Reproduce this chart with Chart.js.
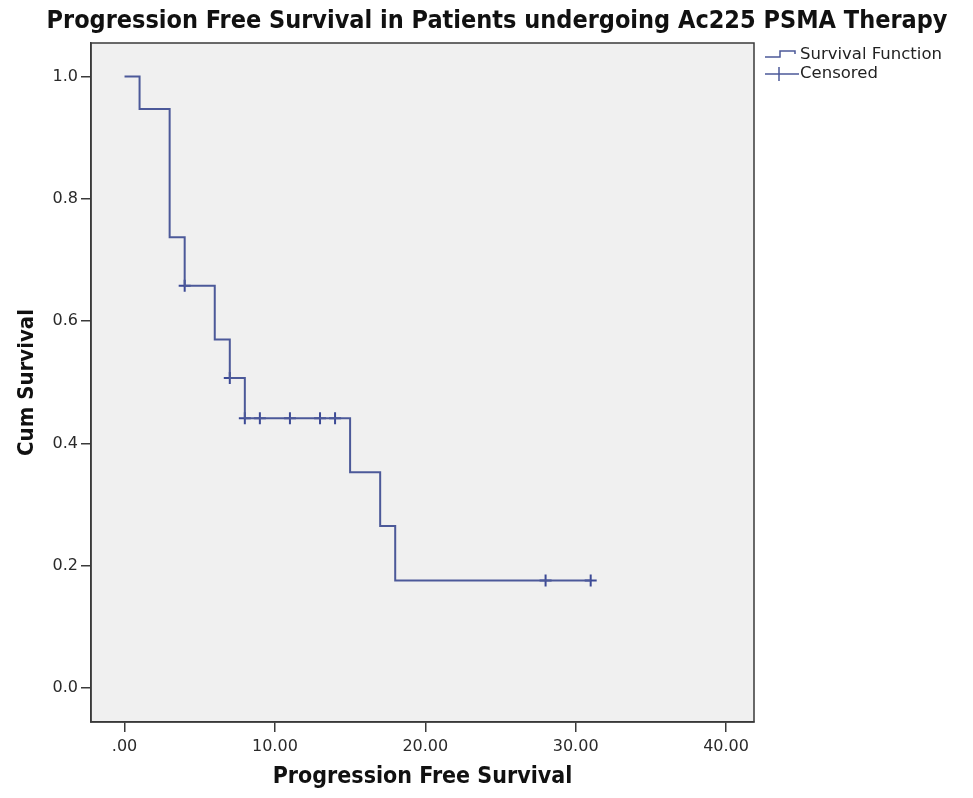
<!DOCTYPE html>
<html>
<head>
<meta charset="utf-8">
<script src="https://cdn.jsdelivr.net/npm/chart.js@4/dist/chart.umd.min.js"></script>
<style>
  html, body { margin: 0; padding: 0; background: #fff; }
  #wrap { width: 973px; height: 798px; }
</style>
</head>
<body>
<div id="wrap"><canvas id="km" width="973" height="798"></canvas></div>
<script>
// Kaplan-Meier steps
var survTimes = [0, 1, 3, 4, 6, 7, 8, 15, 17, 18, 31];
var survValues = [1.0, 0.947, 0.737, 0.658, 0.570, 0.507, 0.441, 0.353, 0.265, 0.176, 0.176];

// censored cases
var censorTimes = [4, 7, 8, 9, 11, 13, 14, 28, 31];
var censorValues = [0.658, 0.507, 0.441, 0.441, 0.441, 0.441, 0.441, 0.176, 0.176];

var xTickValues = [0, 10, 20, 30, 40];
var xTickLabels = ['.00', '10.00', '20.00', '30.00', '40.00'];
var yTickValues = [0, 0.2, 0.4, 0.6, 0.8, 1.0];
var yTickLabels = ['0.0', '0.2', '0.4', '0.6', '0.8', '1.0'];

var lineColor = '#4c5999';
var frameColor = '#3a3a3a';
var tickFont = { family: "'DejaVu Sans', sans-serif", size: 16 };
var titleFamily = "'DejaVu Sans Condensed', 'DejaVu Sans', sans-serif";

function toPoints(xs, ys) {
	var pts = [];
	for (var i = 0; i < xs.length; i++) {
		pts.push({ x: xs[i], y: ys[i] });
	}
	return pts;
}

// grey plot background, frame, title and legend
var decor = {
	id: 'decor',
	beforeDraw: function(chart) {
		var ctx = chart.ctx, a = chart.chartArea;
		ctx.save();
		ctx.fillStyle = '#f0f0f0';
		ctx.fillRect(a.left, a.top, a.right - a.left, a.bottom - a.top);
		ctx.restore();
	},
	afterDraw: function(chart) {
		var ctx = chart.ctx, a = chart.chartArea;
		ctx.save();
		ctx.strokeStyle = frameColor;
		ctx.lineWidth = 1.5;
		ctx.strokeRect(a.left, a.top, a.right - a.left, a.bottom - a.top);

		// title
		ctx.fillStyle = '#111';
		ctx.font = 'bold 25px ' + titleFamily;
		ctx.textAlign = 'center';
		ctx.textBaseline = 'middle';
		ctx.fillText('Progression Free Survival in Patients undergoing Ac225 PSMA Therapy', 497, 21);

		// legend
		var lx = a.right + 11;
		ctx.strokeStyle = lineColor;
		ctx.lineWidth = 1.5;
		ctx.beginPath();
		ctx.moveTo(lx, 57);
		ctx.lineTo(lx + 15, 57);
		ctx.lineTo(lx + 15, 51);
		ctx.lineTo(lx + 30, 51);
		ctx.lineTo(lx + 30, 54);
		ctx.stroke();
		ctx.beginPath();
		ctx.moveTo(lx, 74);
		ctx.lineTo(lx + 34, 74);
		ctx.moveTo(lx + 14, 67);
		ctx.lineTo(lx + 14, 81);
		ctx.stroke();

		ctx.fillStyle = '#222';
		ctx.font = "16.5px 'DejaVu Sans', sans-serif";
		ctx.textAlign = 'left';
		ctx.fillText('Survival Function', lx + 35, 55);
		ctx.fillText('Censored', lx + 35, 74);
		ctx.restore();
	}
};

var chart = new Chart(document.getElementById('km'), {
	type: 'line',
	data: {
		datasets: [
			{
				label: 'Survival Function',
				data: toPoints(survTimes, survValues),
				stepped: 'before',
				borderColor: lineColor,
				borderWidth: 2,
				pointRadius: 0,
				fill: false
			},
			{
				label: 'Censored',
				type: 'scatter',
				data: toPoints(censorTimes, censorValues),
				pointStyle: 'cross',
				pointRadius: 6,
				borderColor: '#3b4995',
				borderWidth: 2,
				showLine: false
			}
		]
	},
	options: {
		responsive: false,
		animation: false,
		devicePixelRatio: 1,
		layout: { padding: { top: 43, right: 219, left: 0, bottom: 0 } },
		plugins: {
			legend: { display: false },
			tooltip: { enabled: false },
			title: { display: false }
		},
		scales: {
			x: {
				type: 'linear',
				min: -2.23,
				max: 41.86,
				afterBuildTicks: function(scale) {
					scale.ticks = xTickValues.map(function(v) { return { value: v }; });
				},
				afterFit: function(scale) { scale.height = 76; },
				ticks: {
					font: tickFont,
					color: '#2a2a2a',
					padding: 5,
					maxRotation: 0,
					autoSkip: false,
					callback: function(value) { return xTickLabels[xTickValues.indexOf(value)]; }
				},
				grid: { drawOnChartArea: false, drawTicks: true, tickLength: 10, color: frameColor, lineWidth: 1.5 },
				border: { display: true, color: frameColor, width: 1.5 },
				title: {
					display: true,
					text: 'Progression Free Survival',
					color: '#111',
					font: { family: titleFamily, size: 23, weight: 'bold' },
					padding: { top: 0, bottom: 7 }
				}
			},
			y: {
				type: 'linear',
				min: -0.0556,
				max: 1.0548,
				afterBuildTicks: function(scale) {
					scale.ticks = yTickValues.map(function(v) { return { value: v }; });
				},
				afterFit: function(scale) { scale.width = 91; },
				ticks: {
					font: tickFont,
					color: '#2a2a2a',
					padding: 3,
					autoSkip: false,
					callback: function(value) { return yTickLabels[yTickValues.indexOf(value)]; }
				},
				grid: { drawOnChartArea: false, drawTicks: true, tickLength: 10, color: frameColor, lineWidth: 1.5 },
				border: { display: true, color: frameColor, width: 1.5 },
				title: {
					display: true,
					text: 'Cum Survival',
					color: '#111',
					font: { family: titleFamily, size: 22, weight: 'bold' },
					padding: { top: 14, bottom: 0 }
				}
			}
		}
	},
	plugins: [decor]
});
</script>
</body>
</html>
